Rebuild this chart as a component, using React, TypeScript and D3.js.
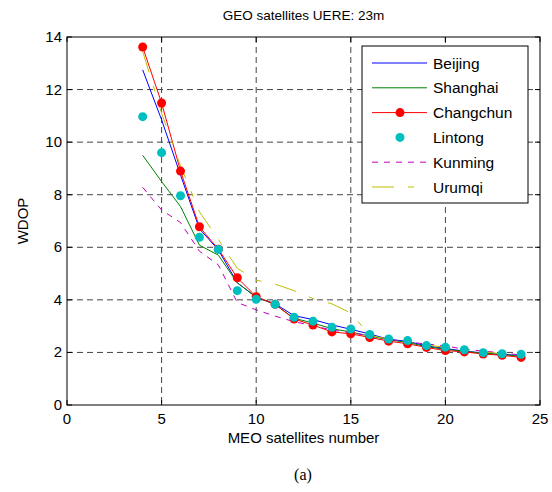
import React from "react";
import * as d3 from "d3";

const meo = [4, 5, 6, 7, 8, 9, 10, 11, 12, 13, 14, 15, 16, 17, 18, 19, 20, 21, 22, 23, 24];
const beijing = [12.75, 10.85, 8.75, 6.7, 5.9, 4.65, 4.1, 3.85, 3.4, 3.25, 3.05, 2.88, 2.7, 2.5, 2.42, 2.25, 2.15, 2.05, 1.98, 1.93, 1.88];
const shanghai = [9.5, 8.5, 7.55, 6.08, 5.7, 4.65, 4.1, 3.82, 3.3, 3.12, 2.9, 2.78, 2.62, 2.48, 2.38, 2.22, 2.12, 2.04, 1.97, 1.92, 1.85];
const changchun = [13.62, 11.49, 8.9, 6.78, 5.93, 4.84, 4.12, 3.83, 3.27, 3.04, 2.78, 2.71, 2.57, 2.43, 2.33, 2.19, 2.07, 2.02, 1.94, 1.89, 1.81];
const lintong = [10.97, 9.6, 7.96, 6.38, 5.92, 4.35, 4.02, 3.83, 3.34, 3.19, 2.96, 2.89, 2.68, 2.51, 2.45, 2.26, 2.2, 2.1, 1.99, 1.95, 1.93];
const kunming = [8.28, 7.42, 6.94, 5.85, 5.33, 3.9, 3.62, 3.38, 3.17, 3.02, 2.85, 2.75, 2.63, 2.5, 2.4, 2.32, 2.25, 2.12, 2.05, 1.98, 1.9];
const urumqi = [13.45, 11.1, 9.1, 7.35, 6.3, 5.2, 4.75, 4.6, 4.35, 4.05, 3.85, 3.5, 2.65, 2.5, 2.4, 2.28, 2.2, 2.1, 2.02, 1.95, 1.88];

const xTicks = [0, 5, 10, 15, 20, 25];
const yTicks = [0, 2, 4, 6, 8, 10, 12, 14];

const title = "GEO satellites UERE: 23m";
const xLabel = "MEO satellites number";
const yLabel = "WDOP";
const caption = "(a)";

type Series = { name: string; values: number[]; color: string; dash?: string; line: boolean; marker: boolean };

const series: Series[] = [
  { name: "Beijing", values: beijing, color: "#0000ff", line: true, marker: false },
  { name: "Shanghai", values: shanghai, color: "#008000", line: true, marker: false },
  { name: "Changchun", values: changchun, color: "#ff0000", line: true, marker: true },
  { name: "Lintong", values: lintong, color: "#00bfbf", line: false, marker: true },
  { name: "Kunming", values: kunming, color: "#bf00bf", dash: "6,6", line: true, marker: false },
  { name: "Urumqi", values: urumqi, color: "#bfbf00", dash: "22,14,6,14", line: true, marker: false },
];

const W = 552;
const H = 492;
const L = 67, R = 540, T = 37, B = 405;
const FONT = "'Liberation Sans', Arial, sans-serif";

export default function App() {
  const x = d3.scaleLinear().domain([0, 25]).range([L, R]);
  const y = d3.scaleLinear().domain([0, 14]).range([B, T]);
  const line = d3.line<number>().x((_, i) => x(meo[i])).y((v) => y(v));

  const legX = 362, legY = 46, legW = 166, legH = 157;
  const rowH = 24.8;

  return (
    <svg width={W} height={H} style={{ position: "absolute", left: 0, top: 0, background: "#fff" }}>
      <rect x={0} y={0} width={W} height={H} fill="#fff" />
      {xTicks.filter((t) => t > 0 && t < 25).map((t) => (
        <line key={"gx" + t} x1={x(t)} x2={x(t)} y1={T} y2={B} stroke="#444" strokeWidth={1} strokeDasharray="6,4" />
      ))}
      {yTicks.filter((t) => t > 0 && t < 14).map((t) => (
        <line key={"gy" + t} x1={L} x2={R} y1={y(t)} y2={y(t)} stroke="#444" strokeWidth={1} strokeDasharray="6,4" />
      ))}
      <g>
        {series.filter((s) => s.line).map((s) => (
          <path key={s.name} d={line(s.values) || ""} fill="none" stroke={s.color} strokeWidth={1} strokeDasharray={s.dash} />
        ))}
        {series.filter((s) => s.marker).map((s) =>
          s.values.map((v, i) => <circle key={s.name + i} cx={x(meo[i])} cy={y(v)} r={4.5} fill={s.color} />)
        )}
      </g>
      <rect x={L} y={T} width={R - L} height={B - T} fill="none" stroke="#000" strokeWidth={1} />
      {xTicks.map((t) => (
        <g key={"xt" + t}>
          <line x1={x(t)} x2={x(t)} y1={B} y2={B - 5} stroke="#000" />
          <line x1={x(t)} x2={x(t)} y1={T} y2={T + 5} stroke="#000" />
          <text x={x(t)} y={B + 19} textAnchor="middle" fontSize={15} fontFamily={FONT}>{t}</text>
        </g>
      ))}
      {yTicks.map((t) => (
        <g key={"yt" + t}>
          <line x1={L} x2={L + 5} y1={y(t)} y2={y(t)} stroke="#000" />
          <line x1={R} x2={R - 5} y1={y(t)} y2={y(t)} stroke="#000" />
          <text x={L - 5} y={y(t) + 5} textAnchor="end" fontSize={15} fontFamily={FONT}>{t}</text>
        </g>
      ))}
      <text x={(L + R) / 2} y={20} textAnchor="middle" fontSize={13.5} fontFamily={FONT}>{title}</text>
      <text x={(L + R) / 2} y={443} textAnchor="middle" fontSize={15} fontFamily={FONT}>{xLabel}</text>
      <text transform={`translate(28,${(T + B) / 2}) rotate(-90)`} textAnchor="middle" fontSize={15} fontFamily={FONT}>{yLabel}</text>
      <text x={303} y={480} textAnchor="middle" fontSize={16} fontFamily="'Liberation Serif', 'Times New Roman', serif">{caption}</text>
      <rect x={legX} y={legY} width={legW} height={legH} fill="#fff" stroke="#000" strokeWidth={1} />
      {series.map((s, i) => {
        const cy = legY + 17 + i * rowH;
        return (
          <g key={"lg" + s.name}>
            {s.line && <line x1={372} x2={427} y1={cy} y2={cy} stroke={s.color} strokeDasharray={s.dash} />}
            {s.marker && <circle cx={400} cy={cy} r={4.5} fill={s.color} />}
            <text x={433} y={cy + 5.5} fontSize={15.5} fontFamily={FONT}>{s.name}</text>
          </g>
        );
      })}
    </svg>
  );
}
